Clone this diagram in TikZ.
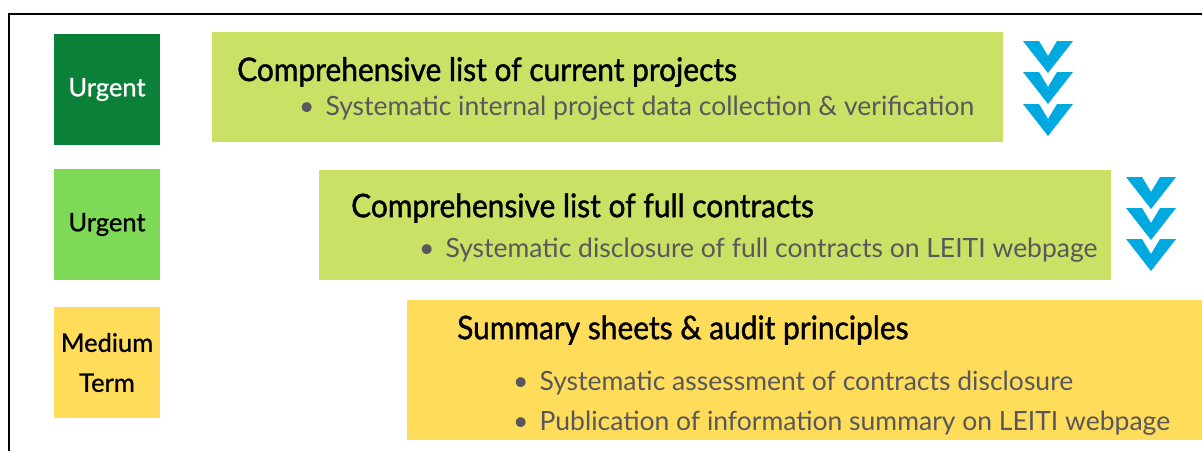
\documentclass[tikz,border=0pt]{standalone}
\usepackage{fontspec}
\setmainfont{Lato}
\newfontfamily\headfont[FakeStretch=0.92, FakeBold=1.2]{Lato}
\newfontfamily\tagfont[FakeBold=0.8]{Lato}
\definecolor{darkgreen}{RGB}{10,128,56}
\definecolor{lightgreen}{RGB}{126,217,87}
\definecolor{lime}{RGB}{201,226,101}
\definecolor{sun}{RGB}{255,220,90}
\definecolor{arrowblue}{RGB}{0,169,224}
\definecolor{bulletgray}{RGB}{88,88,92}
\tikzset{
  tag/.style={minimum width=106pt, minimum height=111pt, inner sep=0pt, align=center,
    font=\tagfont\fontsize{25.5}{40}\selectfont},
  title/.style={anchor=west, inner sep=0pt, font=\headfont\fontsize{32.5}{36}\selectfont},
  point/.style={anchor=west, inner sep=0pt, text=bulletgray, font=\fontsize{26.5}{30}\selectfont},
  chevron/.style={fill=arrowblue, draw=none}
}
\newcommand{\chev}[2]{% x, top y
  \fill[chevron] (#1-25,#2) -- (#1-9,#2) -- (#1,#2+15) -- (#1+9,#2) -- (#1+25,#2) -- (#1,#2+32) -- cycle;
}
\begin{document}
\begin{tikzpicture}[x=1pt,y=-1pt]
\useasboundingbox (0,0) rectangle (1202,450);
\clip (0,0) rectangle (1202,450);

% frame
\draw[line width=1.5pt] (9,14) rectangle (1220,470);

% time tags
\node[tag, fill=darkgreen, text=white] (urgentA) at (107,89.5) {Urgent};
\node[tag, fill=lightgreen] (urgentB) at (107,224.5) {Urgent};
\node[tag, fill=sun] (medium) at (107,362.5) {Medium\\Term};

% bands
\fill[lime] (212,32) rectangle (1003,142);
\fill[lime] (319,170) rectangle (1111,280);
\fill[sun] (407,300) rectangle (1210,440);

% band texts
\node[title] (projects) at (237,72) {Comprehensive list of current projects};
\node[point] (projectsA) at (299,108) {\textbullet\hspace{11pt}Systematic internal project data collection \& verification};

\node[title] (contracts) at (351,208) {Comprehensive list of full contracts};
\node[point] (contractsA) at (419,250) {\textbullet\hspace{11pt}Systematic disclosure of full contracts on LEITI webpage};

\node[title] (sheets) at (457,330) {Summary sheets \& audit principles};
\node[point] (sheetsA) at (513,383) {\textbullet\hspace{11pt}Systematic assessment of contracts disclosure};
\node[point] (sheetsB) at (513,423) {\textbullet\hspace{11pt}Publication of information summary on LEITI webpage};

% chevrons
\foreach \y in {41,72,104} {\chev{1048}{\y}}
\foreach \y in {177,208,239} {\chev{1151}{\y}}
\end{tikzpicture}
\end{document}
